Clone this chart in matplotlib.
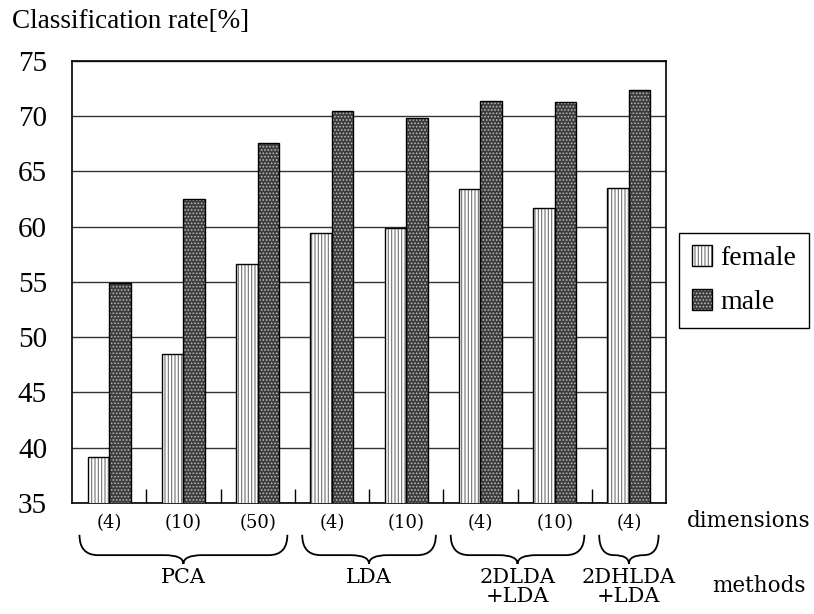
import numpy as np
import matplotlib
matplotlib.use('Agg')
import matplotlib.pyplot as plt
from matplotlib.path import Path
from matplotlib.patches import PathPatch, Patch

# chart data
dimensions = ['(4)', '(10)', '(50)', '(4)', '(10)', '(4)', '(10)', '(4)']
female = [39.2, 48.5, 56.6, 59.4, 59.9, 63.4, 61.7, 63.5]
male = [54.9, 62.5, 67.6, 70.5, 69.8, 71.4, 71.3, 72.4]
methods = ['PCA', 'LDA', '2DLDA\n+LDA', '2DHLDA\n+LDA']
method_groups = [(0, 2), (3, 4), (5, 6), (7, 7)]
yticks = [35, 40, 45, 50, 55, 60, 65, 70, 75]

plt.rcParams['font.family'] = ['Liberation Serif', 'DejaVu Serif']
plt.rcParams['hatch.linewidth'] = 0.8
WIDE = ['DejaVu Serif']


def brace(ax, x0, x1, yt, yh, ytip):
    xc = (x0 + x1) / 2
    r = min(0.25, (x1 - x0) / 4)
    verts = [(x0, yt), (x0, yh), (x0 + r, yh),
             (xc - r, yh), (xc, yh), (xc, ytip),
             (xc, yh), (xc + r, yh),
             (x1 - r, yh), (x1, yh), (x1, yt)]
    codes = [Path.MOVETO, Path.CURVE3, Path.CURVE3,
             Path.LINETO, Path.CURVE3, Path.CURVE3,
             Path.CURVE3, Path.CURVE3,
             Path.LINETO, Path.CURVE3, Path.CURVE3]
    p = PathPatch(Path(verts, codes), facecolor='none', edgecolor='black',
                  lw=1.3, transform=ax.get_xaxis_transform(), clip_on=False)
    ax.add_patch(p)


def main():
    fig = plt.figure(figsize=(8.14, 6.14), dpi=100)
    ax = fig.add_axes([0.0885, 0.1808, 0.7297, 0.72])

    x = np.arange(len(dimensions))
    w = 0.29

    # female: white with vertical stripes
    ax.bar(x - w / 2, female, w, color='white', edgecolor='#707070',
           lw=0, hatch='|||||', zorder=3)
    ax.bar(x - w / 2, female, w, color='none', edgecolor='black', lw=1.0, zorder=4)
    # male: dark with light dots
    ax.bar(x + w / 2, male, w, color='#3c3c3c', edgecolor='#b8b8b8',
           lw=0, hatch='.....', zorder=3)
    ax.bar(x + w / 2, male, w, color='none', edgecolor='black', lw=1.0, zorder=4)

    ax.set_xlim(-0.5, len(dimensions) - 0.5)
    ax.set_ylim(35, 75)
    ax.set_yticks(yticks)
    ax.tick_params(axis='y', length=0, pad=18, labelsize=21)
    ax.yaxis.grid(True, color='#333333', lw=1.0, zorder=1)
    ax.set_axisbelow(True)

    ax.set_xticks(x)
    ax.set_xticklabels([])
    ax.tick_params(axis='x', which='major', length=0)
    ax.set_xticks(x[:-1] + 0.5, minor=True)
    ax.tick_params(axis='x', which='minor', direction='in', length=10,
                   width=1.0, color='black')
    for s in ax.spines.values():
        s.set_linewidth(1.2)
        s.set_color('black')

    # dimension labels
    for xi, d in zip(x, dimensions):
        ax.text(xi, -0.045, d, transform=ax.get_xaxis_transform(),
                ha='center', va='center', fontsize=13, family=WIDE)

    # braces + method labels
    for (a, b), m in zip(method_groups, methods):
        brace(ax, a - 0.4, b + 0.4, -0.072, -0.118, -0.138)
        ax.text((a + b) / 2, -0.148, m, transform=ax.get_xaxis_transform(),
                ha='center', va='top', fontsize=15, linespacing=0.95,
                family=WIDE)

    fig.text(749 / 814, 1 - 521 / 614, 'dimensions', ha='center', va='center',
             fontsize=15.5, family=WIDE)
    fig.text(759 / 814, 1 - 586 / 614, 'methods', ha='center', va='center',
             fontsize=15.5, family=WIDE)
    fig.text(12 / 814, 1 - 22 / 614, 'Classification rate[%]', ha='left',
             va='center', fontsize=19.5)

    h_f = (Patch(facecolor='white', edgecolor='#707070', lw=0, hatch='|||||'),
           Patch(facecolor='none', edgecolor='black', lw=1.0))
    h_m = (Patch(facecolor='#3c3c3c', edgecolor='#b8b8b8', lw=0, hatch='.....'),
           Patch(facecolor='none', edgecolor='black', lw=1.0))
    leg = fig.legend([h_f, h_m], ['female', 'male'],
                     loc='upper left', bbox_to_anchor=(679 / 814, 1 - 233 / 614),
                     fontsize=20, handlelength=0.75, handleheight=0.75,
                     handletextpad=0.3, labelspacing=0.65, borderpad=0.45,
                     borderaxespad=0, fancybox=False, framealpha=1,
                     edgecolor='black')
    leg.get_frame().set_linewidth(1.0)

    fig.savefig('out.png', dpi=100)


if __name__ == '__main__':
    main()
